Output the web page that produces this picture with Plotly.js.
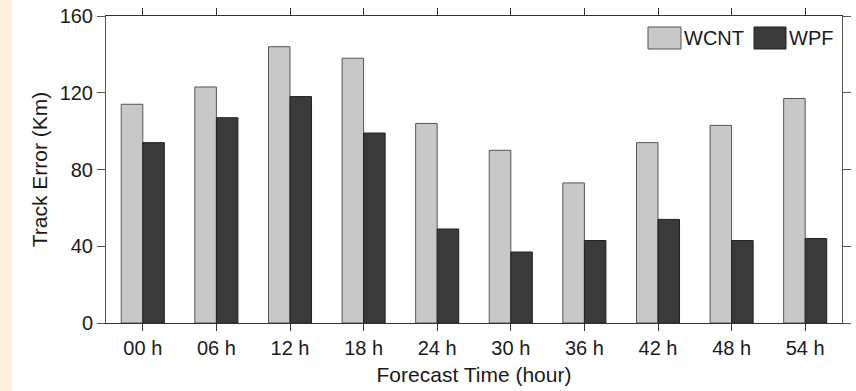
<!DOCTYPE html>
<html>
<head>
<meta charset="utf-8">
<script src="https://cdn.plot.ly/plotly-3.0.1.min.js"></script>
<style>
html,body{margin:0;padding:0;}
body{background:linear-gradient(to right,#FDEEDD 0px,#FDEEDD 12px,#ffffff 12px);}
#chart{width:856px;height:391px;}
</style>
</head>
<body>
<div id="chart"></div>
<script>
const categories = ["00 h","06 h","12 h","18 h","24 h","30 h","36 h","42 h","48 h","54 h"];
const wcnt = [114, 123, 144, 138, 104, 90, 73, 94, 103, 117];
const wpf = [94, 107, 118, 99, 49, 37, 43, 54, 43, 44];
const seriesNames = ["WCNT", "WPF"];
const yTicks = [0, 40, 80, 120, 160];

const tickFont = {family: "Liberation Sans, Arial, sans-serif", size: 20, color: "#1a1a1a"};
const titleFont = {family: "Liberation Sans, Arial, sans-serif", size: 21, color: "#1a1a1a"};

const traces = [
  {type: "bar", name: seriesNames[0], x: categories, y: wcnt,
   marker: {color: "#c8c8c8", line: {color: "#555555", width: 1}}},
  {type: "bar", name: seriesNames[1], x: categories, y: wpf,
   marker: {color: "#3a3a3a", line: {color: "#222222", width: 1}}}
];

const W = 736, H = 307;
function px(x){return x / W;}
function py(y){return y / H;}
// legend boxes at pixel positions relative to plot area (left=106, top=16)
const legX1 = 648 - 106, legX2 = 754 - 106, legTop = 27 - 16, legBot = 49 - 16;

const layout = {
  width: 856, height: 391,
  margin: {l: 106, r: 14, t: 16, b: 68},
  paper_bgcolor: "rgba(0,0,0,0)",
  plot_bgcolor: "#ffffff",
  font: tickFont,
  barmode: "group",
  bargap: 0.415,
  bargroupgap: 0,
  showlegend: false,
  xaxis: {
    type: "category",
    range: [-0.5, 9.5],
    showline: true, linecolor: "#333333", linewidth: 1,
    mirror: "ticks",
    ticks: "outside", ticklen: 7, tickcolor: "#333333",
    tickfont: tickFont,
    title: {text: "Forecast Time (hour)", font: titleFont, standoff: 9},
    showgrid: false, zeroline: false
  },
  yaxis: {
    range: [0, 160],
    tickvals: yTicks,
    ticktext: yTicks.map(String),
    showline: true, linecolor: "#555555", linewidth: 1,
    mirror: "ticks",
    ticks: "outside", ticklen: 8, tickcolor: "#555555",
    tickfont: tickFont,
    title: {text: "Track Error (Km)", font: titleFont, standoff: 6},
    showgrid: false, zeroline: false
  },
  shapes: [
    {type: "rect", xref: "paper", yref: "paper",
     x0: px(legX1), x1: px(legX1 + 33), y0: 1 - py(legBot), y1: 1 - py(legTop),
     fillcolor: "#c8c8c8", line: {color: "#555555", width: 1}},
    {type: "rect", xref: "paper", yref: "paper",
     x0: px(legX2), x1: px(legX2 + 32), y0: 1 - py(legBot), y1: 1 - py(legTop),
     fillcolor: "#3a3a3a", line: {color: "#222222", width: 1}}
  ],
  annotations: [
    {xref: "paper", yref: "paper", x: px(legX1 + 34), y: 1 - py((legTop + legBot) / 2),
     xanchor: "left", yanchor: "middle", text: seriesNames[0], showarrow: false, font: tickFont},
    {xref: "paper", yref: "paper", x: px(legX2 + 33), y: 1 - py((legTop + legBot) / 2),
     xanchor: "left", yanchor: "middle", text: seriesNames[1], showarrow: false, font: tickFont}
  ]
};

Plotly.newPlot("chart", traces, layout, {displayModeBar: false, staticPlot: true});
</script>
</body>
</html>
